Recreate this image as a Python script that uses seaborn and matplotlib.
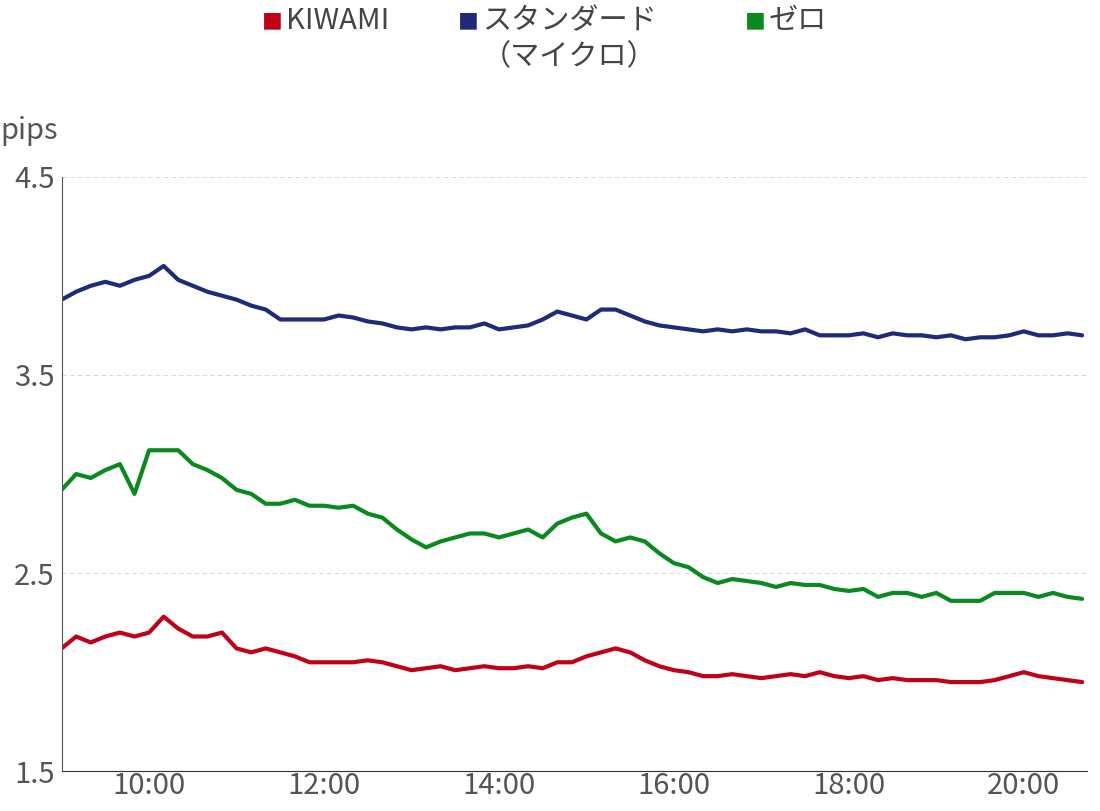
import numpy as np
import pandas as pd
import matplotlib
matplotlib.use("Agg")
import matplotlib.pyplot as plt
import seaborn as sns

kiwami = [2.12,2.18,2.15,2.18,2.20,2.18,2.20,2.28,2.22,2.18,2.18,2.20,2.12,2.10,2.12,2.10,2.08,2.05,2.05,2.05,2.05,2.06,2.05,2.03,2.01,2.02,2.03,2.01,2.02,2.03,2.02,2.02,2.03,2.02,2.05,2.05,2.08,2.10,2.12,2.10,2.06,2.03,2.01,2.00,1.98,1.98,1.99,1.98,1.97,1.98,1.99,1.98,2.00,1.98,1.97,1.98,1.96,1.97,1.96,1.96,1.96,1.95,1.95,1.95,1.96,1.98,2.00,1.98,1.97,1.96,1.95]
standard = [3.88,3.92,3.95,3.97,3.95,3.98,4.00,4.05,3.98,3.95,3.92,3.90,3.88,3.85,3.83,3.78,3.78,3.78,3.78,3.80,3.79,3.77,3.76,3.74,3.73,3.74,3.73,3.74,3.74,3.76,3.73,3.74,3.75,3.78,3.82,3.80,3.78,3.83,3.83,3.80,3.77,3.75,3.74,3.73,3.72,3.73,3.72,3.73,3.72,3.72,3.71,3.73,3.70,3.70,3.70,3.71,3.69,3.71,3.70,3.70,3.69,3.70,3.68,3.69,3.69,3.70,3.72,3.70,3.70,3.71,3.70]
zero = [2.92,3.00,2.98,3.02,3.05,2.90,3.12,3.12,3.12,3.05,3.02,2.98,2.92,2.90,2.85,2.85,2.87,2.84,2.84,2.83,2.84,2.80,2.78,2.72,2.67,2.63,2.66,2.68,2.70,2.70,2.68,2.70,2.72,2.68,2.75,2.78,2.80,2.70,2.66,2.68,2.66,2.60,2.55,2.53,2.48,2.45,2.47,2.46,2.45,2.43,2.45,2.44,2.44,2.42,2.41,2.42,2.38,2.40,2.40,2.38,2.40,2.36,2.36,2.36,2.40,2.40,2.40,2.38,2.40,2.38,2.37]
hours = [9 + i / 6 for i in range(len(zero))]
tick_hours = [10, 12, 14, 16, 18, 20]
tick_labels = ["10:00", "12:00", "14:00", "16:00", "18:00", "20:00"]
names = ["KIWAMI", "スタンダード\n（マイクロ）", "ゼロ"]
colors = ["#c00018", "#1f2a78", "#0a8a1e"]

sns.set_style("white")
plt.rcParams['font.family'] = ['Noto Sans CJK JP', 'DejaVu Sans']

df = pd.DataFrame({"hour": hours * 3,
                   "value": kiwami + standard + zero,
                   "series": [names[0]] * len(hours) + [names[1]] * len(hours) + [names[2]] * len(hours)})

fig = plt.figure(figsize=(11, 8.11), dpi=100)
ax = fig.add_axes([0.056, 0.049, 0.932, 0.733])
sns.lineplot(data=df, x="hour", y="value", hue="series", palette=colors,
             hue_order=names, linewidth=3, ax=ax, legend=False)
ax.set_xlim(9, 20.72)
ax.set_ylim(1.5, 4.5)
ax.set_yticks([1.5, 2.5, 3.5, 4.5])
ax.set_yticklabels(["1.5", "2.5", "3.5", "4.5"])
ax.set_xticks(tick_hours)
ax.set_xticklabels(tick_labels)
ax.tick_params(axis='both', labelsize=21, labelcolor="#555555", length=0, pad=0)
ax.tick_params(axis='y', length=5, color="#555555", direction='out')
for y in [2.5, 3.5, 4.5]:
    ax.axhline(y, color="#dddddd", lw=0.8, ls=(0, (4, 3)), zorder=0)
ax.set_xlabel("")
ax.set_ylabel("")
for s in ["top", "right"]:
    ax.spines[s].set_visible(False)
ax.spines["left"].set_color("#555555")
ax.spines["bottom"].set_color("#333333")
fig.text(0.0, 0.828, "pips", fontsize=21, color="#555555")

# legend drawn as text items
lx = [262 / 1100, 458 / 1100, 745 / 1100]
for x, c, n in zip(lx, colors, names):
    fig.text(x, 1 - 22 / 811, "■", color=c, fontsize=15, va="center", ha="left")
    fig.text(x + 24 / 1100, 1 - 6 / 811, n, color="#444444", fontsize=21,
             va="top", ha="left", multialignment="center", linespacing=1.25)
fig.savefig("out.png", dpi=100)
